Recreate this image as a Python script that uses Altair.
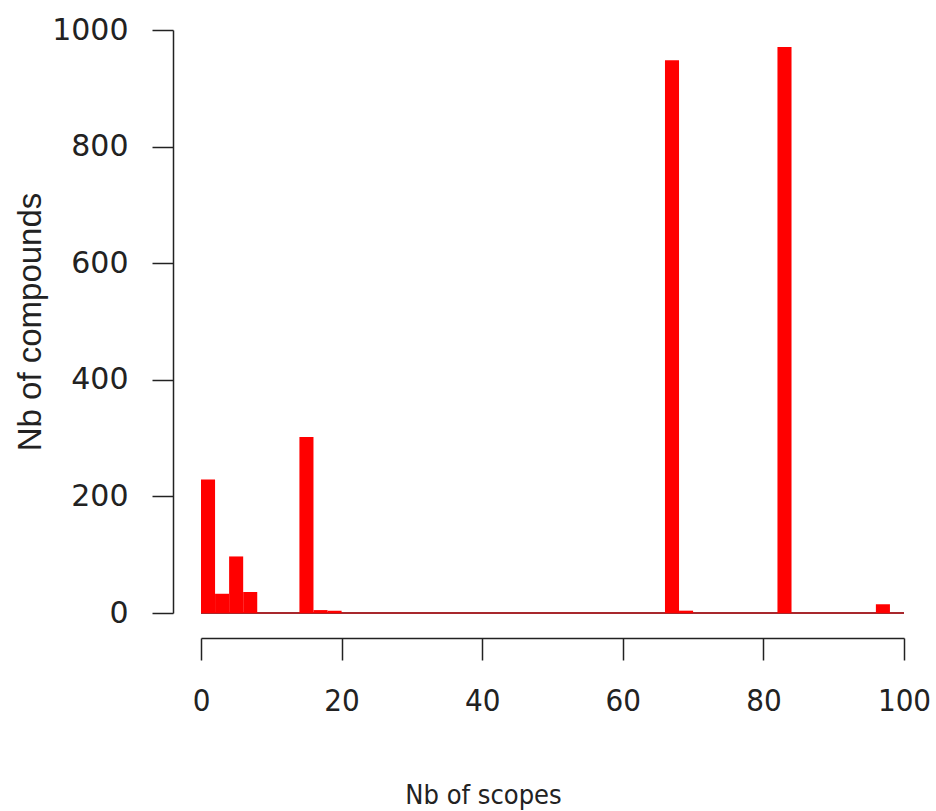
import altair as alt
import pandas as pd

bin_start = list(range(0, 100, 2))
counts = [229, 33, 97, 36, 0, 0, 0, 302, 5, 4,
          0, 0, 0, 0, 0, 0, 0, 0, 0, 0,
          0, 0, 0, 0, 0, 0, 0, 0, 0, 0,
          0, 0, 0, 948, 4, 0, 0, 0, 0, 0,
          0, 971, 0, 0, 0, 0, 0, 0, 15, 0]
x_ticks = [0, 20, 40, 60, 80, 100]
y_ticks = [0, 200, 400, 600, 800, 1000]

df = pd.DataFrame({"start": bin_start, "end": [b + 2 for b in bin_start], "count": counts})
df_nz = df[df["count"] > 0]

W, H = 703, 583
FONT = "Liberation Sans, Arial, sans-serif"
WIDE = "DejaVu Sans, Liberation Sans, sans-serif"
NARROW = "Liberation Sans Narrow, DejaVu Sans Condensed, Liberation Sans, sans-serif"

xscale = alt.Scale(domain=[0, 100], nice=False, zero=False)
yscale = alt.Scale(domain=[0, 1000], nice=False)

xaxis = alt.Axis(values=x_ticks, title="Nb of scopes", offset=25, tickSize=22, format="d",
                 labelPadding=26, labelFont=NARROW, labelFontSize=31, labelColor="#222",
                 titleFont=NARROW, titleFontSize=27, titleFontWeight="normal", titleColor="#222",
                 titleX=282, titleY=157, titleBaseline="middle",
                 domainColor="#222", tickColor="#222", domainWidth=1.5, tickWidth=1.5,
                 grid=False, labelFlush=False, labelOverlap=False)
yaxis = alt.Axis(values=y_ticks, title="Nb of compounds", offset=28, tickSize=21, format="d",
                 labelPadding=24, labelFont=WIDE, labelFontSize=30, labelColor="#222",
                 titleFont=FONT, titleFontSize=33, titleFontWeight="normal", titleColor="#222",
                 titleX=-143, titleBaseline="middle",
                 domainColor="#222", tickColor="#222", domainWidth=1.5, tickWidth=1.5,
                 grid=False, labelFlush=False, labelOverlap=False)

baseline = alt.Chart(df).mark_rule(color="#a8282e", strokeWidth=1.5).encode(
    x=alt.datum(0, scale=xscale, axis=xaxis, type="quantitative"),
    x2=alt.datum(100),
    y=alt.datum(0, scale=yscale, axis=yaxis, type="quantitative"),
)

bars = alt.Chart(df_nz).mark_rect(color="#ff0000").encode(
    x=alt.X("start:Q", scale=xscale, axis=xaxis),
    x2="end:Q",
    y=alt.Y("count:Q", scale=yscale, axis=yaxis),
    y2=alt.datum(0),
)

chart = alt.layer(baseline, bars).properties(
    width=W, height=H,
    autosize=alt.AutoSizeParams(type="none"),
    padding={"left": 201, "top": 30, "right": 32, "bottom": 198},
    background="white",
).configure_view(stroke=None)

chart.save("out.html", embed_options={"renderer": "svg", "actions": False})
